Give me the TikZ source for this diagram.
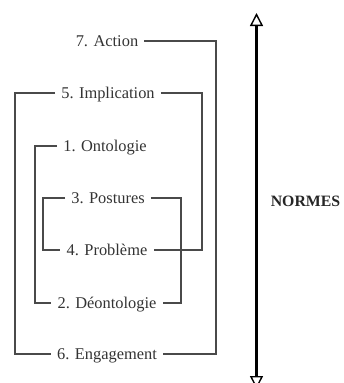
\documentclass[tikz,border=0pt]{standalone}
\usepackage{fontspec}
\setmainfont{Liberation Serif}
\usetikzlibrary{arrows.meta}
\definecolor{txtgray}{HTML}{333333}
\definecolor{linegray}{HTML}{4a4a4a}
\tikzset{normtip/.tip={Triangle[open, length=13pt, width=13pt, line width=1.4pt]}}
\begin{document}
\begin{tikzpicture}[x=1pt,y=-1pt,
  lab/.style={font=\fontsize{16.4}{19}\selectfont, text=txtgray, text height=11pt, text depth=0pt, inner xsep=6pt, inner ysep=0pt, anchor=center},
  link/.style={draw=linegray, line width=1.2pt},
]
\useasboundingbox (0,0) rectangle (343,383);
\node[lab] (act) at (107,41)  {7. Action};
\node[lab] (imp) at (108,93)  {5. Implication};
\node[lab] (ont) at (105,146) {1. Ontologie};
\node[lab] (pos) at (108,198) {3. Postures};
\node[lab] (pro) at (107,250) {4. Problème};
\node[lab] (deo) at (107,303) {2. Déontologie};
\node[lab] (eng) at (107,354) {6. Engagement};

\coordinate (r7) at (216,0);
\coordinate (r5) at (202,0);
\coordinate (l5) at (15,0);
\coordinate (l1) at (35,0);
\coordinate (l3) at (43,0);
\coordinate (r3) at (181,0);

\draw[link] (act.east) -- (act.east -| r7) |- (eng.east);
\draw[link] (imp.east) -- (imp.east -| r5) |- (pro.east);
\draw[link] (imp.west) -- (imp.west -| l5) |- (eng.west);
\draw[link] (ont.west) -- (ont.west -| l1) |- (deo.west);
\draw[link] (pos.west) -- (pos.west -| l3) |- (pro.west);
\draw[link] (pos.east) -- (pos.east -| r3) |- (deo.east);

\coordinate (atop) at (256.5,13);
\coordinate (abot) at (256.5,389);
\draw[line width=3.8pt, black, normtip-normtip] (atop) -- (abot);
\node[font=\fontsize{15.8}{18}\selectfont\bfseries, text=black!85, anchor=center] (norm) at (305.5,201) {NORMES};
\end{tikzpicture}
\end{document}
